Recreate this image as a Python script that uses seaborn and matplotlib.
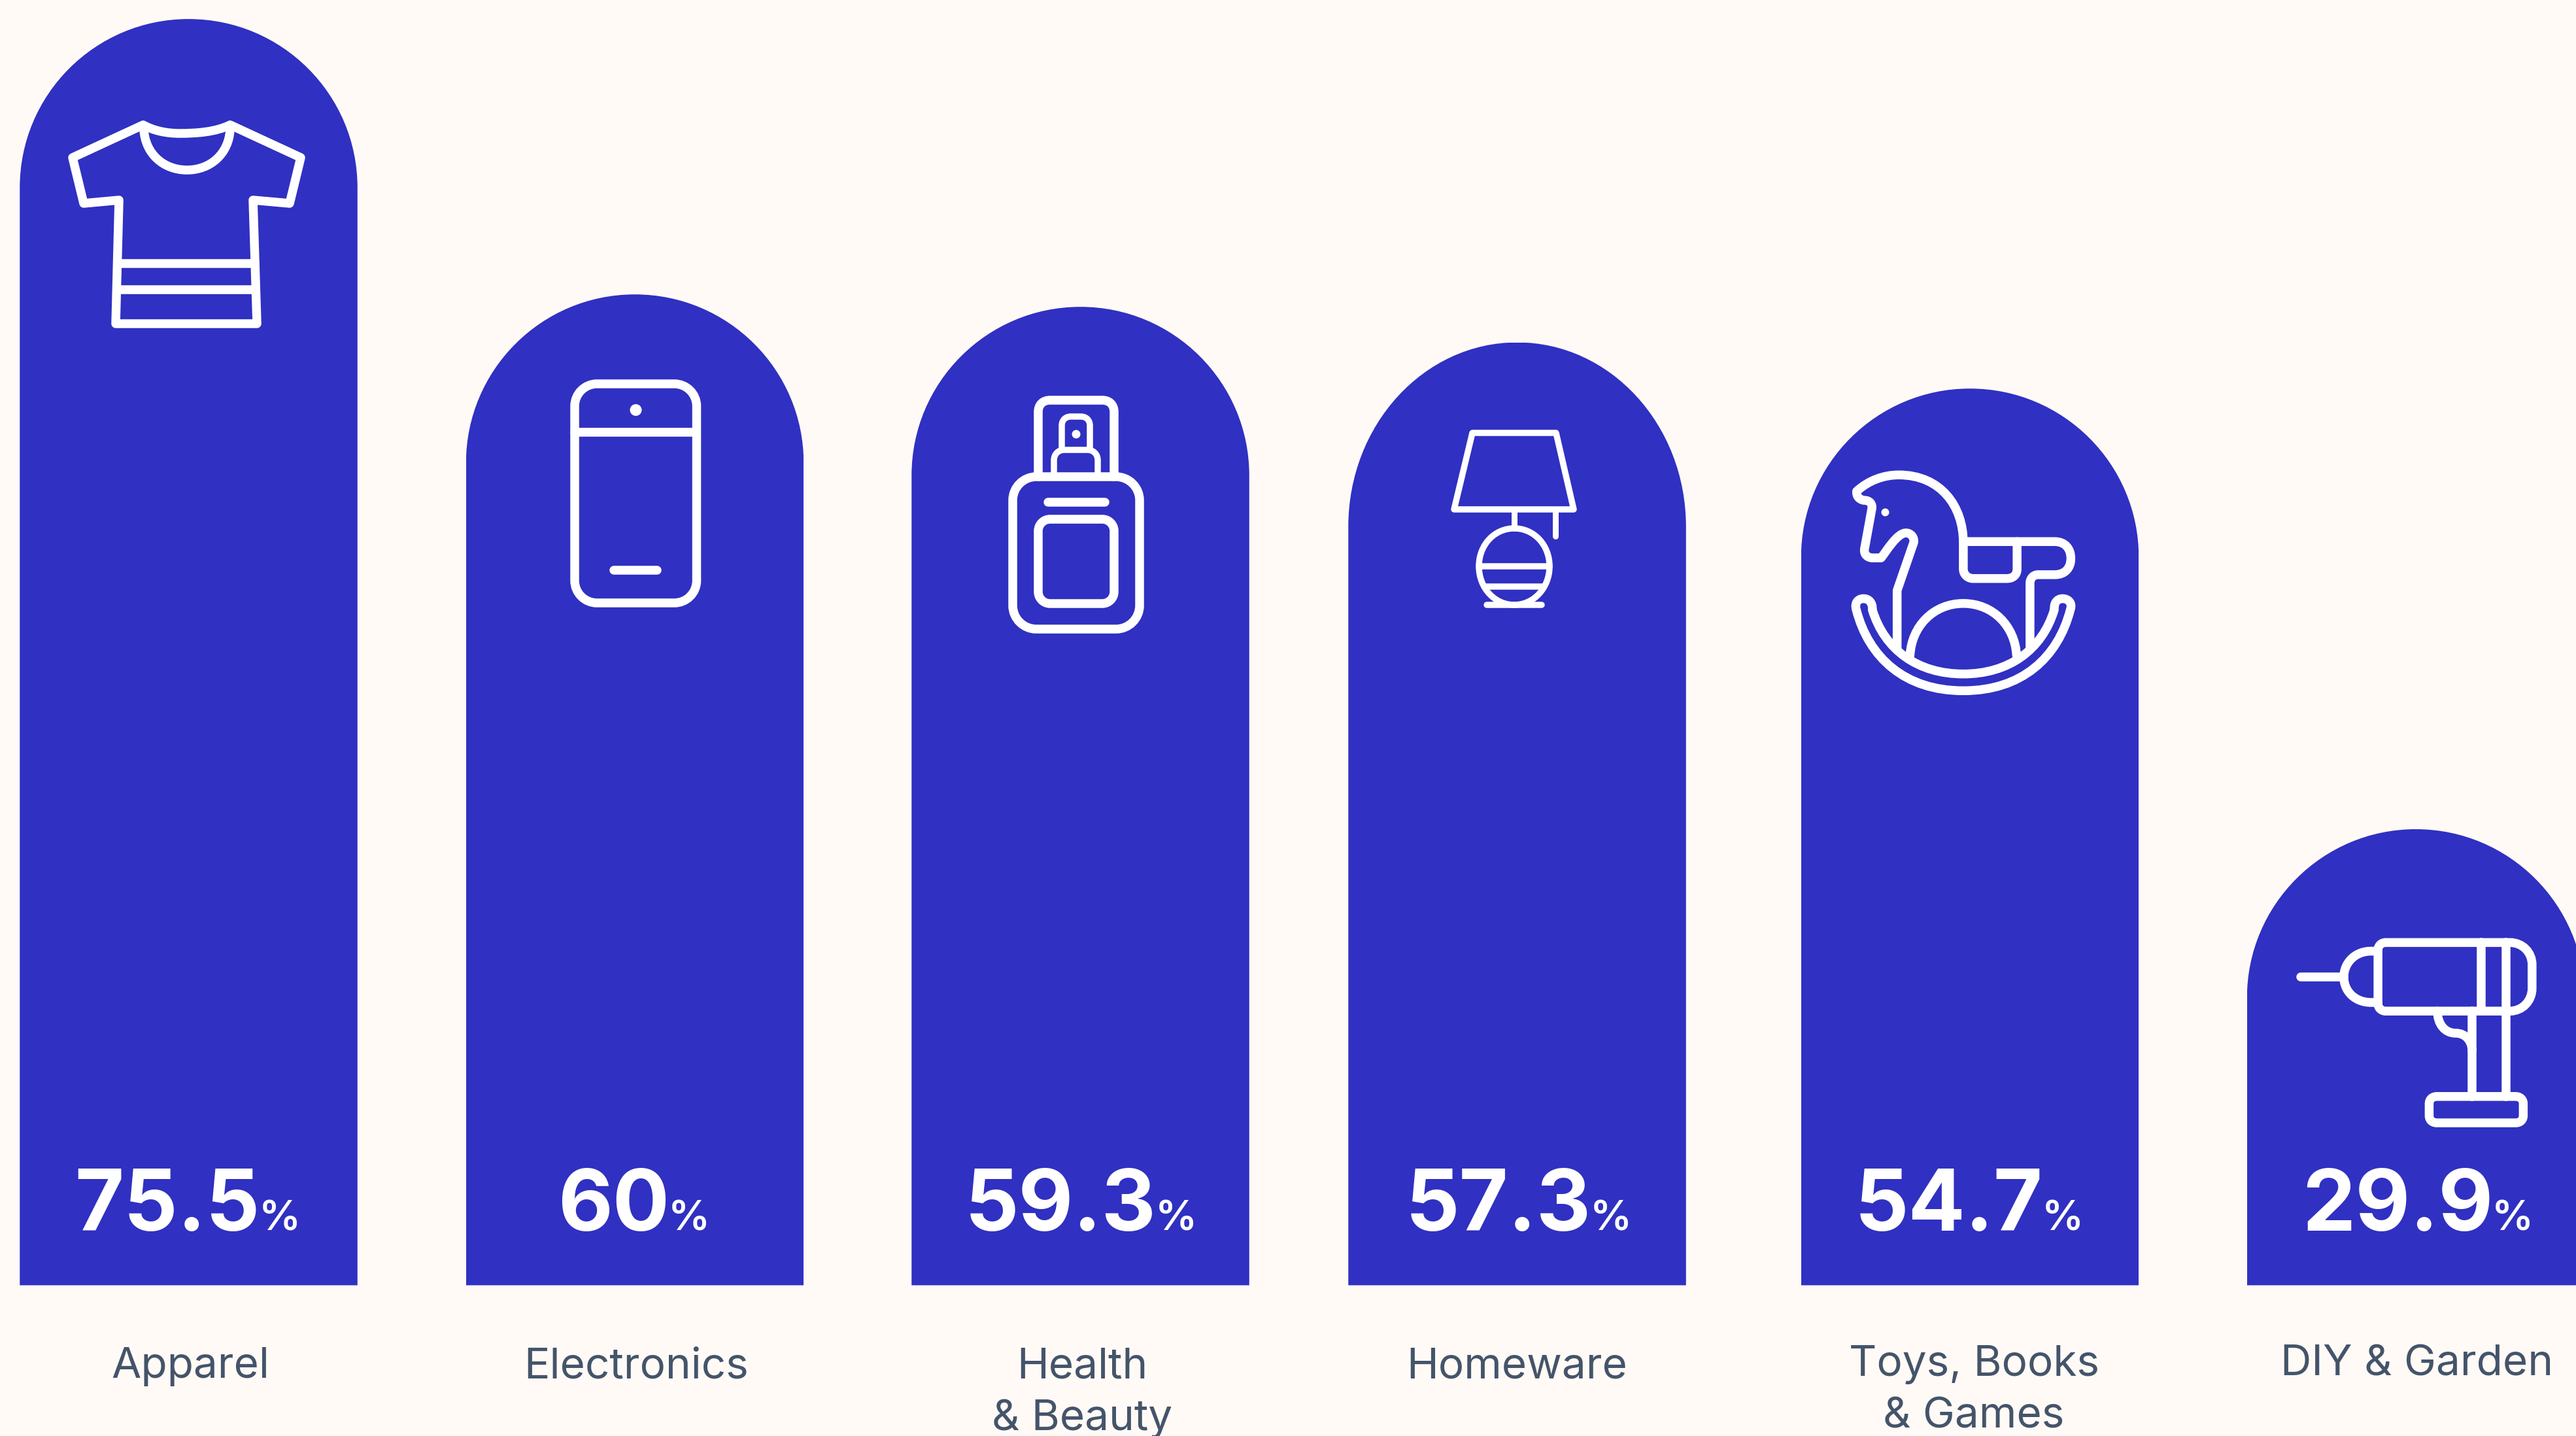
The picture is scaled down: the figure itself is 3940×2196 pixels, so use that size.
import matplotlib
matplotlib.use("Agg")
import matplotlib.pyplot as plt
import seaborn as sns
import numpy as np
from matplotlib.path import Path
from matplotlib.patches import PathPatch, Circle

categories = ["Apparel", "Electronics", "Health\n& Beauty", "Homeware", "Toys, Books\n& Games", "DIY & Garden"]
values = [75.5, 60, 59.3, 57.3, 54.7, 29.9]

BG = "#FFFAF6"
BLUE = "#3030C2"
SLATE = "#44546A"
W, H, DPI = 3940, 2196, 100

# Layout, in figure pixels
bar_centers = np.array([288.5, 971, 1652.5, 2320.5, 3013, 3695])
bar_width = 516.5
head_heights = [258, 258, 258, 282, 258, 258]
baseline_px = 1965.5
value_floor = 4.23      # value sitting on the bars' baseline
px_per_unit = 27.17
label_centers = [291, 973, 1655, 2320, 3019, 3697]
label_baselines = [2107, 2107, 2107, 2107, 2104, 2104]
value_centers = [287, 969.5, 1653, 2323, 3012, 3698]
value_baseline = 1882
LINE_STEP = 80

sns.set_theme(style="white")
plt.rcParams["font.family"] = ["Inter", "DejaVu Sans"]

fig = plt.figure(figsize=(W / DPI, H / DPI), dpi=DPI, facecolor=BG)
ax = fig.add_axes([0, 0, 1, 1], facecolor=BG)

spacing = np.diff(bar_centers).min()
sns.barplot(x=bar_centers, y=values, native_scale=True, width=bar_width / spacing,
            gap=0, color=BLUE, saturation=1, linewidth=0, errorbar=None, ax=ax)
ax.set_xlim(0, W)
ax.set_ylim(value_floor - (H - baseline_px) / px_per_unit,
            value_floor + baseline_px / px_per_unit)
ax.axis("off")


def arch_path(x0, x1, top, bottom, head_px):
    """Closed outline with an elliptical head, in (pixel, value) coordinates."""
    r = (x1 - x0) / 2
    ry = head_px / px_per_unit
    k = 0.5523
    xm = (x0 + x1) / 2
    s = top - ry
    verts = [(x0, bottom), (x0, s),
             (x0, s + k * ry), (xm - k * r, top), (xm, top),
             (xm + k * r, top), (x1, s + k * ry), (x1, s),
             (x1, bottom), (x0, bottom)]
    codes = [Path.MOVETO, Path.LINETO,
             Path.CURVE4, Path.CURVE4, Path.CURVE4,
             Path.CURVE4, Path.CURVE4, Path.CURVE4,
             Path.LINETO, Path.CLOSEPOLY]
    return Path(verts, codes)


# Round off the bar heads and seat them on the raised baseline
for bar, head in zip(ax.patches, head_heights):
    x0, x1 = bar.get_x(), bar.get_x() + bar.get_width()
    bar.set_clip_path(arch_path(x0, x1, bar.get_height(), value_floor, head), ax.transData)

# Pixel-space overlay for text and the line icons
ov = fig.add_axes([0, 0, 1, 1], facecolor="none")
ov.set_xlim(0, W)
ov.set_ylim(H, 0)
ov.axis("off")

# Value labels: number plus a smaller percent sign, centred as one group
renderer = fig.canvas.get_renderer()
PCT_GAP = -2
for v, cx in zip(values, value_centers):
    num = ov.text(0, value_baseline, f"{v:g}", color="white", fontsize=93,
                  fontweight="bold", va="baseline", ha="left")
    pct = ov.text(0, value_baseline, "%", color="white", fontsize=46,
                  fontweight="semibold", va="baseline", ha="left")
    wn = num.get_window_extent(renderer).width
    wp = pct.get_window_extent(renderer).width
    left = cx - (wn + wp + PCT_GAP) / 2
    num.set_x(left)
    pct.set_x(left + wn + PCT_GAP)

# Category labels
for name, cx, by in zip(categories, label_centers, label_baselines):
    for i, line in enumerate(name.split("\n")):
        ov.text(cx, by + i * LINE_STEP, line, color=SLATE, fontsize=47.3,
                fontweight="normal", va="baseline", ha="center")


def svg(d, sx=1.0, sy=1.0, ox=0.0, oy=0.0):
    """Parse a small M/L/C/Z path string, scaling and offsetting its points."""
    toks = d.split()
    verts, codes = [], []
    i = 0
    while i < len(toks):
        c = toks[i]
        i += 1
        if c == "Z":
            verts.append((0, 0))
            codes.append(Path.CLOSEPOLY)
            continue
        n = 3 if c == "C" else 1
        for j in range(n):
            verts.append((ox + float(toks[i]) / sx, oy + float(toks[i + 1]) / sy))
            i += 2
            codes.append({"M": Path.MOVETO, "L": Path.LINETO, "C": Path.CURVE4}[c])
    return Path(verts, codes)


def stroke(path, width=13.5):
    ov.add_patch(PathPatch(path, fill=False, edgecolor="white", lw=width * 72 / DPI,
                           joinstyle="round", capstyle="round"))


def dot(x, y, r):
    ov.add_patch(Circle((x, y), r, facecolor="white", edgecolor="none"))


def rrect(l, t, r, b, rad):
    k = rad * 0.45
    return (f"M {l} {t + rad} C {l} {t + k} {l + k} {t} {l + rad} {t} L {r - rad} {t} "
            f"C {r - k} {t} {r} {t + k} {r} {t + rad} L {r} {b - rad} "
            f"C {r} {b - k} {r - k} {b} {r - rad} {b} L {l + rad} {b} "
            f"C {l + k} {b} {l} {b - k} {l} {b - rad} Z")


# T-shirt
stroke(svg("M 219 191 L 111 241 L 128 311 L 182 306 L 177 495 L 393 495 L 387 306 "
           "L 443 311 L 460 241 L 352 191 C 330 202 300 204 275 204 C 255 204 235 200 219 191 Z"))
stroke(svg("M 220 198 C 222 235 250 260 286 260 C 322 260 350 235 352 198"))
stroke(svg("M 180 403 L 390 403"))
stroke(svg("M 179 443 L 391 443"))

# Phone
stroke(svg(rrect(879, 587, 1065.5, 922, 34)))
stroke(svg("M 879 661 L 1065 661"))
dot(972.5, 627, 9)
stroke(svg("M 939 872 L 1005 872"))

# Perfume bottle
stroke(svg(rrect(1549, 729, 1743, 962, 36)))
stroke(svg(rrect(1588, 794, 1704, 923, 18)))
stroke(svg("M 1603 768 L 1690 768"))
stroke(svg("M 1588 729 L 1588 630 C 1588 619 1595 612 1606 612 L 1686 612 C 1697 612 1704 619 1704 630 L 1704 729"))
stroke(svg("M 1624 688 L 1624 651 C 1624 642 1630 637 1638 637 L 1653 637 C 1661 637 1667 642 1667 651 L 1667 688"), 9.5)
stroke(svg("M 1612 729 L 1612 704 C 1612 694 1619 688 1628 688 L 1663 688 C 1672 688 1679 694 1679 704 L 1679 729"), 9.5)
dot(1646, 664, 6.5)

# Table lamp
stroke(svg("M 2252 662 L 2380 662 L 2407 779 L 2224 779 Z"), 9.5)
stroke(svg("M 2316 779 L 2316 808"), 9)
stroke(svg("M 2379 779 L 2379 820"), 9)
stroke(svg("M 2262 866 C 2262 833 2286 808 2316 808 C 2346 808 2370 833 2370 866 "
           "C 2370 899 2346 925 2316 925 C 2286 925 2262 899 2262 866 Z"), 9.5)
stroke(svg("M 2262 866 L 2370 866"), 9.5)
stroke(svg("M 2272 897 L 2360 897"), 9.5)
stroke(svg("M 2274 925 L 2358 925"), 9.5)

# Rocking horse
hz = dict(sx=1.2645, sy=1.3635, ox=2700, oy=650)
stroke(svg("M 177 138 C 200 115 230 104 258 104 C 340 104 383 170 383 245 L 383 300 "
           "C 383 312 392 320 402 320 L 467 320 C 480 320 487 312 487 300 L 487 243", **hz))
stroke(svg("M 383 243 L 560 243 C 580 243 591 258 591 278 C 591 298 580 312 560 312 L 528 312 "
           "C 518 312 512 320 512 330 L 512 465", **hz))
stroke(svg("M 177 138 C 175 150 185 157 192 157 C 202 157 208 165 206 175 L 192 258 "
           "C 190 270 198 277 208 277 L 224 277 C 235 262 255 225 272 225 C 282 225 289 235 287 245 "
           "L 255 345 L 255 465", **hz))
dot(2700 + 232 / 1.2645, 650 + 182 / 1.3635, 6)
stroke(svg("M 280 480 C 283 420 325 372 383 372 C 441 372 483 420 486 480", **hz))
stroke(svg("M 176 385 C 200 485 270 554 383 554 C 496 554 566 485 590 385 C 595 370 585 362 575 362 "
           "C 565 362 558 370 559 385 C 535 470 470 519 383 519 C 296 519 231 470 207 385 "
           "C 208 370 200 362 190 362 C 180 362 172 370 176 385 Z", **hz))

# Drill
stroke(svg("M 1185 1095 C 1185 1085 1192 1079 1200 1079 L 1440 1079 C 1465 1079 1483 1100 1483 1125 "
           "L 1483 1175 C 1483 1200 1465 1222 1440 1222 L 1200 1222 C 1192 1222 1185 1216 1185 1206 Z", **hz))
stroke(svg("M 1185 1097 L 1172 1097 C 1140 1097 1119 1122 1119 1151 C 1119 1180 1140 1204 1172 1204 L 1185 1204", **hz))
stroke(svg("M 1035 1151 L 1119 1151", **hz))
stroke(svg("M 1384 1079 L 1384 1222", **hz))
stroke(svg("M 1433 1079 L 1433 1400", **hz))
stroke(svg("M 1367 1222 L 1367 1400", **hz))
stroke(svg("M 1300 1222 C 1300 1250 1315 1268 1335 1268 C 1355 1268 1367 1285 1367 1305", **hz))
stroke(svg("M 1284 1415 C 1284 1406 1290 1400 1299 1400 L 1451 1400 C 1460 1400 1466 1406 1466 1415 "
           "L 1466 1440 C 1466 1449 1460 1455 1451 1455 L 1299 1455 C 1290 1455 1284 1449 1284 1440 Z", **hz))

fig.savefig("out.png", dpi=DPI, facecolor=BG)
